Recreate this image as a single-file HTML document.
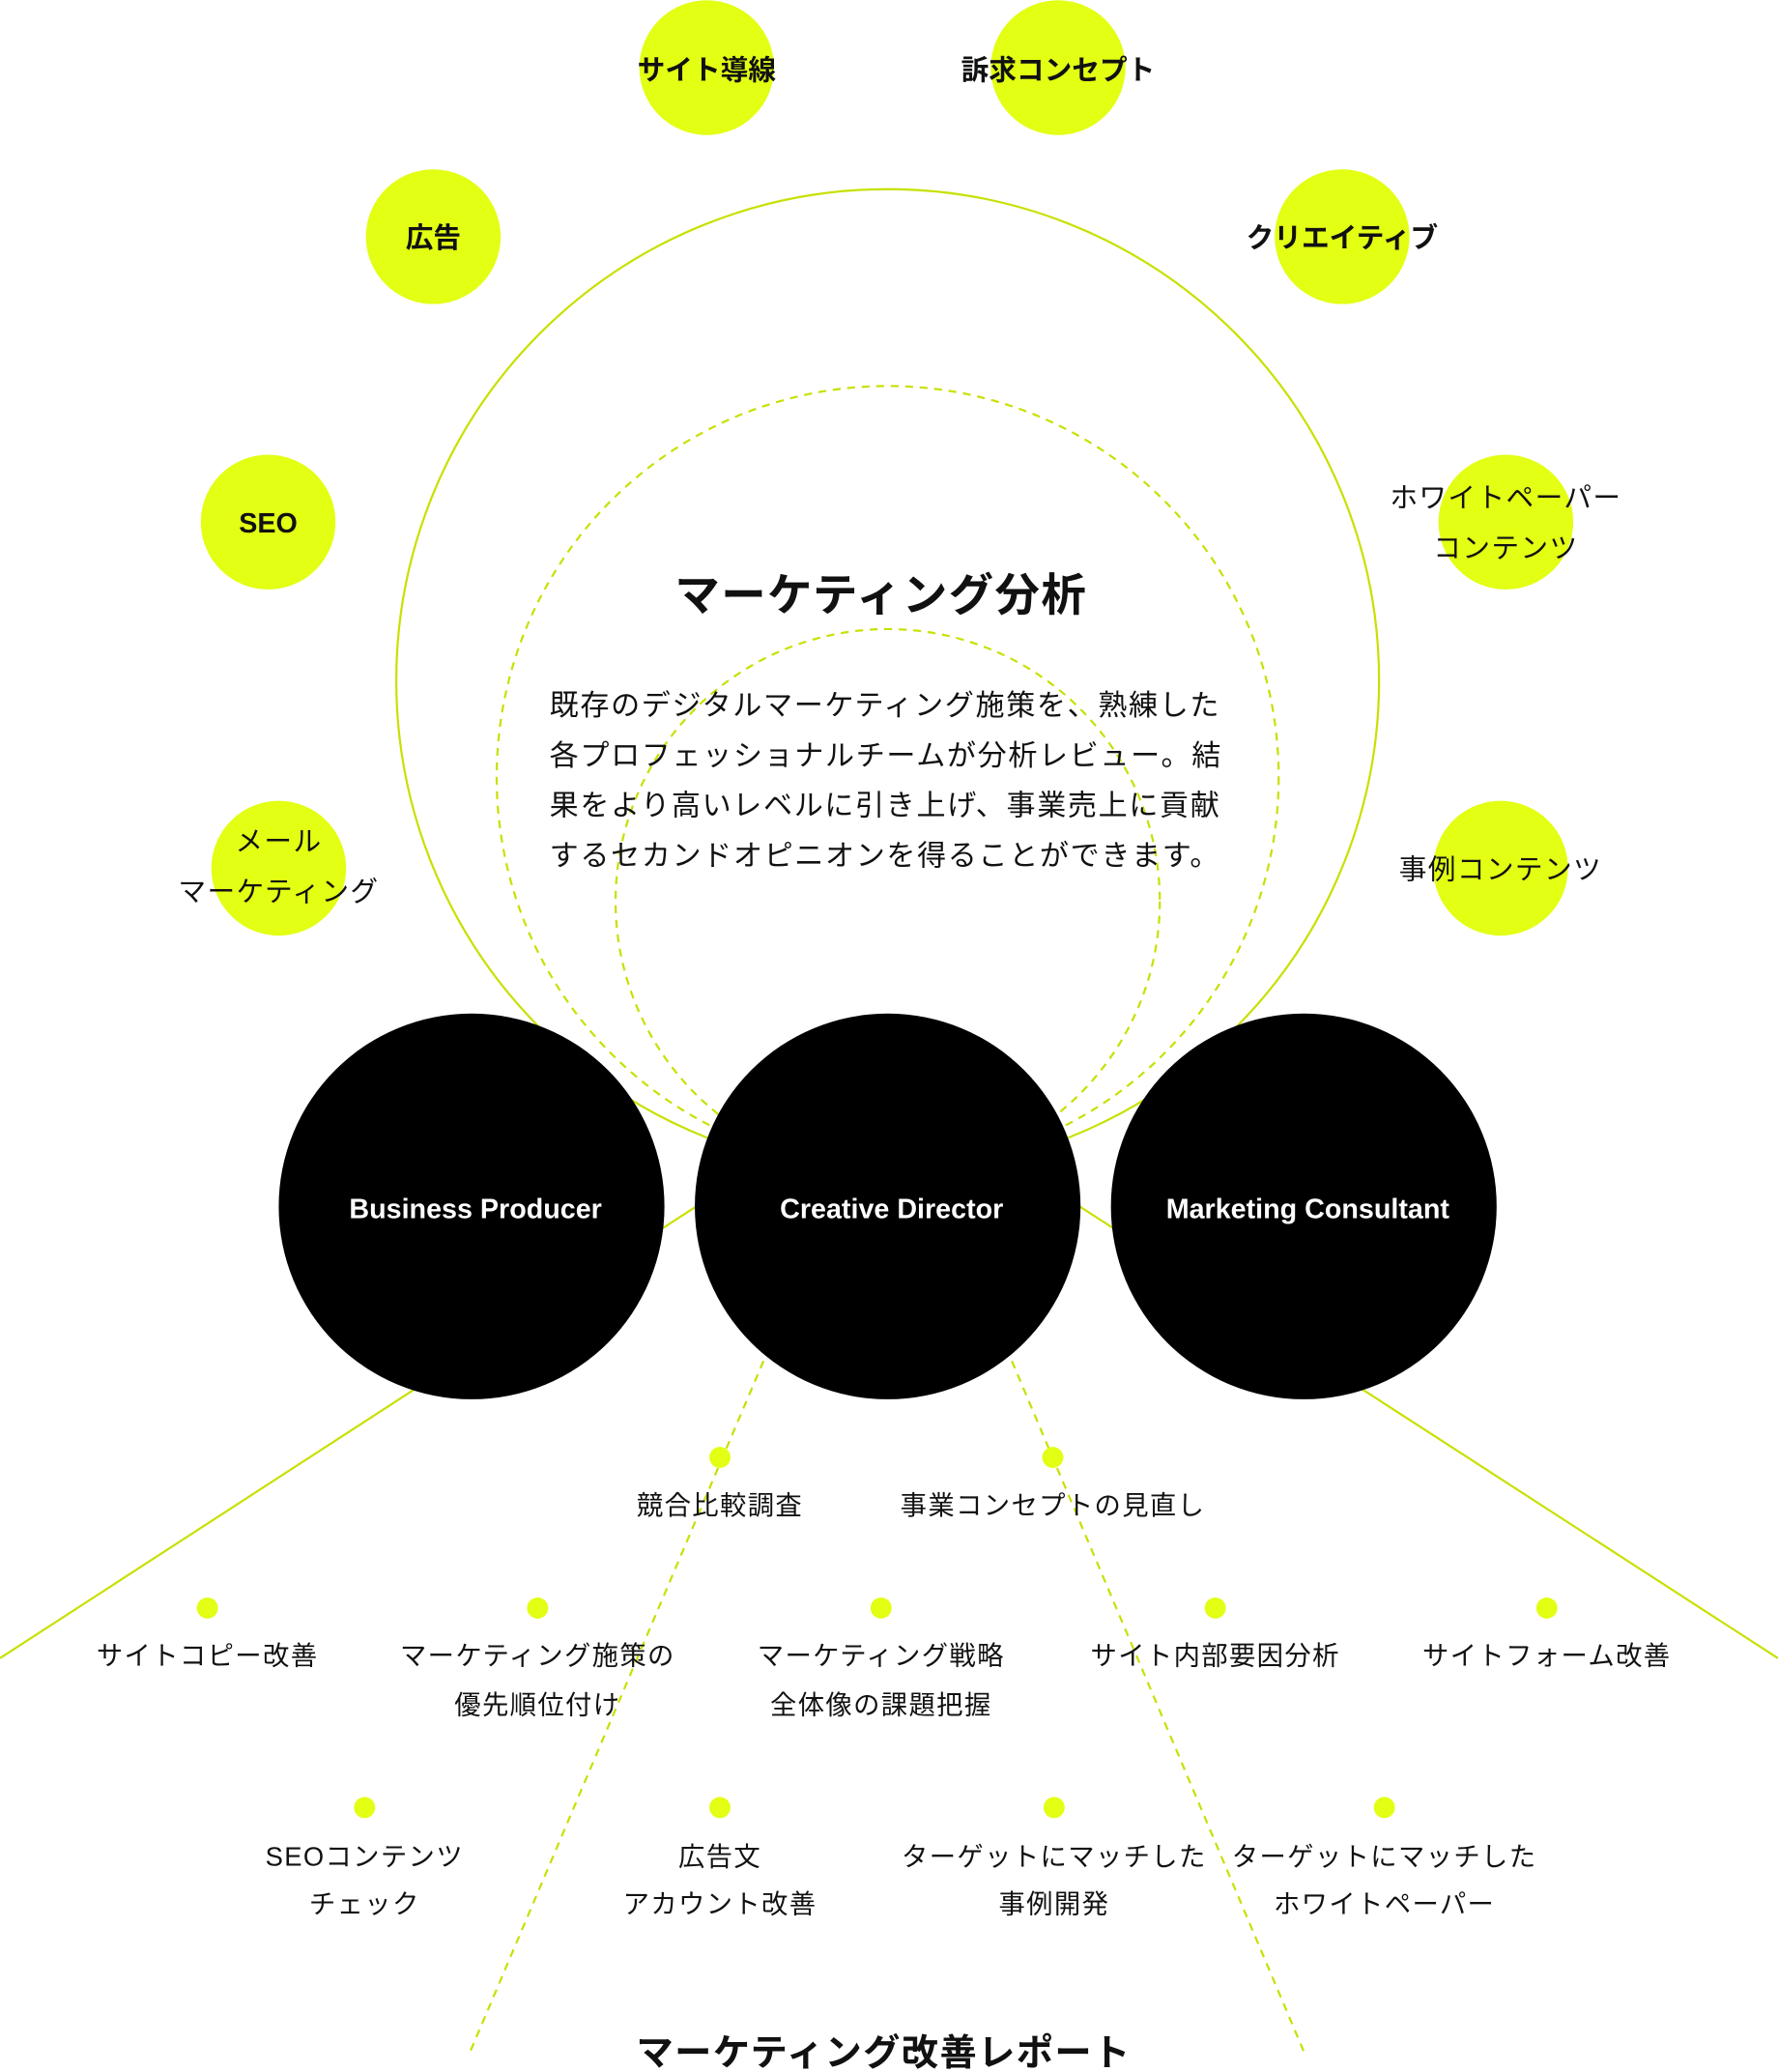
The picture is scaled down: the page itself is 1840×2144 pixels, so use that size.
<!DOCTYPE html>
<html><head><meta charset="utf-8"><style>
html,body{margin:0;padding:0;background:#fff}
svg{display:block}
text{font-family:"Liberation Sans","Noto Sans CJK JP",sans-serif;fill:#111}
</style></head><body>
<svg width="1840" height="2144" viewBox="0 0 1346 1568" xmlns="http://www.w3.org/2000/svg">
<g fill="none" stroke="#c8e000" stroke-width="1.6">
<circle cx="672" cy="515" r="372"/>
<line x1="0" y1="1255" x2="672" y2="819"/>
<line x1="1346" y1="1255" x2="672" y2="819"/>
<g stroke-dasharray="6 5">
<circle cx="672" cy="588" r="296"/>
<circle cx="672" cy="682" r="206"/>
<line x1="578" y1="1030" x2="355" y2="1555"/>
<line x1="766" y1="1030" x2="988" y2="1555"/>
</g>
</g>
<g fill="#e2ff14">
<circle cx="535" cy="51" r="51"/><circle cx="801" cy="51" r="51"/>
<circle cx="328" cy="179" r="51"/><circle cx="1016" cy="179" r="51"/>
<circle cx="203" cy="395" r="51"/><circle cx="1140" cy="395" r="51"/>
<circle cx="211" cy="657" r="51"/><circle cx="1136" cy="657" r="51"/>
<circle cx="545" cy="1103" r="8"/><circle cx="797" cy="1103" r="8"/>
<circle cx="157" cy="1217" r="8"/><circle cx="407" cy="1217" r="8"/><circle cx="667" cy="1217" r="8"/><circle cx="920" cy="1217" r="8"/><circle cx="1171" cy="1217" r="8"/>
<circle cx="276" cy="1368" r="8"/><circle cx="545" cy="1368" r="8"/><circle cx="798" cy="1368" r="8"/><circle cx="1048" cy="1368" r="8"/>
</g>
<g fill="#000">
<circle cx="357" cy="913" r="146"/><circle cx="672" cy="913" r="146"/><circle cx="987" cy="913" r="146"/>
</g>
<g text-anchor="middle" font-size="21" font-weight="bold">
<text x="535" y="60">サイト導線</text>
<text x="801" y="60">訴求コンセプト</text>
<text x="328" y="187">広告</text>
<text x="1016" y="187">クリエイティブ</text>
<text x="203" y="403">SEO</text>
<text x="1140" y="384" font-weight="normal" letter-spacing="1">ホワイトペーパー</text>
<text x="1140" y="422" font-weight="normal" letter-spacing="1">コンテンツ</text>
<text x="211" y="644" font-weight="normal" letter-spacing="1">メール</text>
<text x="211" y="682" font-weight="normal" letter-spacing="1">マーケティング</text>
<text x="1136" y="665" font-weight="normal" letter-spacing="1">事例コンテンツ</text>
<text x="667" y="462" font-size="34" letter-spacing="1">マーケティング分析</text>
<text x="360" y="922" style="fill:#fff">Business Producer</text>
<text x="675" y="922" style="fill:#fff">Creative Director</text>
<text x="990" y="922" style="fill:#fff">Marketing Consultant</text>
<text x="669" y="1563" font-size="28" letter-spacing="1">マーケティング改善レポート</text>
</g>
<g font-size="22" letter-spacing="1.2">
<text x="416" y="541">既存のデジタルマーケティング施策を、熟練した</text>
<text x="416" y="579">各プロフェッショナルチームが分析レビュー。結</text>
<text x="416" y="617">果をより高いレベルに引き上げ、事業売上に貢献</text>
<text x="416" y="655">するセカンドオピニオンを得ることができます。</text>
</g>
<g text-anchor="middle" font-size="20" letter-spacing="1">
<text x="545" y="1146">競合比較調査</text>
<text x="797" y="1146">事業コンセプトの見直し</text>
<text x="157" y="1260">サイトコピー改善</text>
<text x="407" y="1260">マーケティング施策の</text>
<text x="407" y="1297">優先順位付け</text>
<text x="667" y="1260">マーケティング戦略</text>
<text x="667" y="1297">全体像の課題把握</text>
<text x="920" y="1260">サイト内部要因分析</text>
<text x="1171" y="1260">サイトフォーム改善</text>
<text x="276" y="1412">SEOコンテンツ</text>
<text x="276" y="1448">チェック</text>
<text x="545" y="1412">広告文</text>
<text x="545" y="1448">アカウント改善</text>
<text x="798" y="1412">ターゲットにマッチした</text>
<text x="798" y="1448">事例開発</text>
<text x="1048" y="1412">ターゲットにマッチした</text>
<text x="1048" y="1448">ホワイトペーパー</text>
</g>
</svg>
</body></html>
